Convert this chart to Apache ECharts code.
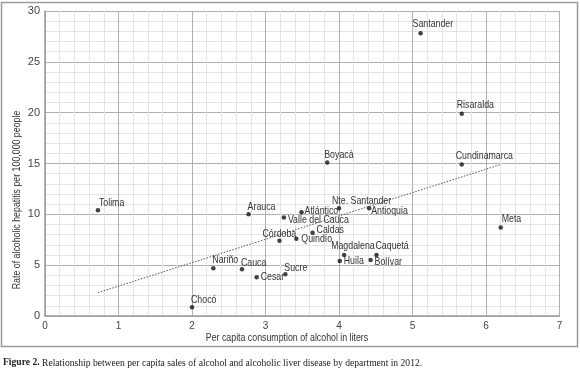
<!DOCTYPE html>
<html>
<head>
<meta charset="utf-8">
<script src="https://cdn.jsdelivr.net/npm/echarts@6/dist/echarts.min.js"></script>
<style>
    html, body { margin: 0; padding: 0; background: #fff; }
    #chart { width: 580px; height: 373px; }
</style>
</head>
<body>
<div id="chart"></div>
<script>
    // departments, consumption (liters per capita) and hepatitis rate
    var departments = ['Tolima', 'Arauca', 'Valle del Cauca', 'Córdoba', 'Quindío', 'Atlántico',
        'Nte. Santander', 'Antioquia', 'Caldas', 'Magdalena', 'Huila', 'Caquetá', 'Bolívar',
        'Meta', 'Santander', 'Risaralda', 'Cundinamarca', 'Boyacá', 'Nariño', 'Cauca',
        'Cesar', 'Sucre', 'Chocó'];
    var consumption = [0.72, 2.77, 3.25, 3.19, 3.42, 3.49, 4.0, 4.41, 3.64, 4.07, 4.01, 4.51, 4.43,
        6.2, 5.11, 5.67, 5.67, 3.84, 2.29, 2.68, 2.88, 3.27, 2.0];
    var hepatitisRate = [10.4, 10.0, 9.7, 7.4, 7.6, 10.2, 10.6, 10.6, 8.2, 6.0, 5.4, 6.0, 5.5,
        8.7, 27.8, 19.9, 14.9, 15.1, 4.7, 4.6, 3.8, 4.1, 0.85];
    // dotted trend line end points
    var trendX = [0.72, 6.2];
    var trendY = [2.3, 14.9];
    var xTicks = [0, 1, 2, 3, 4, 5, 6, 7];
    var yTicks = [0, 5, 10, 15, 20, 25, 30];

    // label offsets from each dot (px), left-aligned text
    var labelOffsets = [[1, -7], [-1, -7], [4, 3], [-17, -7], [5, 0], [3, -1],
        [-7, -7], [2, 3], [4, -3], [-13, -9], [4, 0], [-1, -9], [4, 2],
        [1, -9], [-8, -9], [-5, -9], [-6, -9], [-3, -8], [-1, -8], [-1, -6],
        [4, 0], [-1, -6], [-1, -7]];

    // no Arial Narrow here, so squeeze Liberation Sans instead
    var sans = '"Liberation Sans", Arial, sans-serif';
    var serif = '"Liberation Serif", "DejaVu Serif", serif';
    var squeeze = 0.8;

    var points = departments.map(function (name, i) {
        return [consumption[i], hepatitisRate[i], i];
    });

    var chart = echarts.init(document.getElementById('chart'));
    chart.setOption({
        backgroundColor: '#fff',
        animation: false,
        graphic: [
            {
                type: 'rect',
                shape: { x: 1.5, y: 2.5, width: 576, height: 344 },
                style: { fill: 'none', stroke: '#9a9a9a', lineWidth: 1.5 }
            },
            {
                type: 'text',
                x: 287,
                y: 338,
                scaleX: squeeze,
                style: {
                    text: 'Per capita consumption of alcohol in liters',
                    fontFamily: sans, fontSize: 11, fill: '#333',
                    align: 'center', verticalAlign: 'middle'
                }
            },
            {
                type: 'text',
                x: 17,
                y: 200,
                rotation: Math.PI / 2,
                scaleX: squeeze,
                style: {
                    text: 'Rate of alcoholic hepatitis per 100,000 people',
                    fontFamily: sans, fontSize: 11, fill: '#333',
                    align: 'center', verticalAlign: 'middle'
                }
            },
            {
                type: 'text',
                left: 3,
                top: 358,
                style: {
                    text: '{b|Figure 2.} Relationship between per capita sales of alcohol and alcoholic liver disease by department in 2012.',
                    rich: {
                        b: { fontWeight: 'bold', fontFamily: serif, fontSize: 9.6, fill: '#222' }
                    },
                    fontFamily: serif,
                    fontSize: 9.6,
                    fill: '#222'
                }
            }
        ],
        grid: { left: 45, right: 20.5, top: 11, bottom: 57 },
        xAxis: {
            type: 'value',
            min: xTicks[0],
            max: xTicks[xTicks.length - 1],
            interval: 1,
            axisLine: { lineStyle: { color: '#9a9a9a', width: 1.5 } },
            axisTick: { show: false },
            axisLabel: { fontFamily: sans, fontSize: 10, color: '#444', margin: 5 },
            splitLine: { lineStyle: { color: '#b0b0b0', width: 1 } },
            minorTick: { show: false, splitNumber: 5 },
            minorSplitLine: { show: true, lineStyle: { color: '#e4e4e4', width: 1 } }
        },
        yAxis: {
            type: 'value',
            min: yTicks[0],
            max: yTicks[yTicks.length - 1],
            interval: 5,
            axisLine: { show: true, lineStyle: { color: '#9a9a9a', width: 1.5 } },
            axisTick: { show: false },
            axisLabel: { fontFamily: sans, fontSize: 11, color: '#444', margin: 5 },
            splitLine: { lineStyle: { color: '#b0b0b0', width: 1 } },
            minorTick: { show: false, splitNumber: 5 },
            minorSplitLine: { show: true, lineStyle: { color: '#e4e4e4', width: 1 } }
        },
        series: [
            {
                type: 'line',
                data: trendX.map(function (x, i) { return [x, trendY[i]]; }),
                showSymbol: false,
                lineStyle: { color: '#555', width: 1, type: [1.5, 1.5] },
                z: 3
            },
            {
                type: 'scatter',
                data: points,
                symbolSize: 4.5,
                itemStyle: { color: '#111' },
                z: 4
            },
            {
                // department names, drawn narrow like the original
                type: 'custom',
                data: points,
                silent: true,
                z: 5,
                renderItem: function (params, api) {
                    var i = api.value(2);
                    var pt = api.coord([api.value(0), api.value(1)]);
                    return {
                        type: 'text',
                        x: pt[0] + labelOffsets[i][0],
                        y: pt[1] + labelOffsets[i][1],
                        scaleX: squeeze,
                        style: {
                            text: departments[i],
                            fontFamily: sans,
                            fontSize: 11,
                            fill: '#333',
                            align: 'left',
                            verticalAlign: 'middle'
                        }
                    };
                }
            }
        ]
    });
</script>
</body>
</html>
